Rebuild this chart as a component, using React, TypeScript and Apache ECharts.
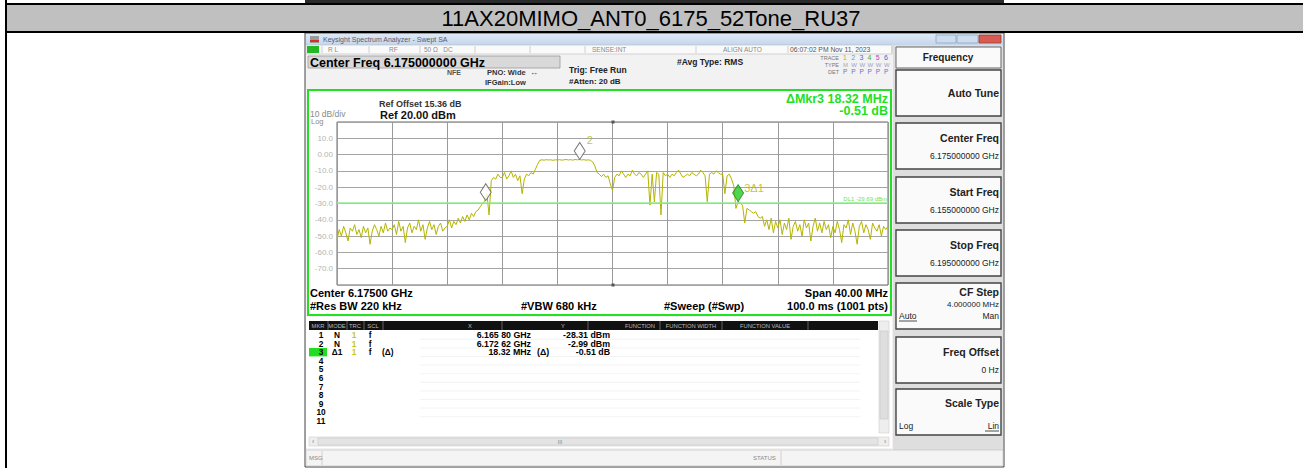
import React, { useEffect, useRef } from "react";
import * as echarts from "echarts";

// ---------------- data ----------------
const TITLE = "11AX20MIMO_ANT0_6175_52Tone_RU37";
const START_MHZ = 6155;
const STEP_MHZ = 0.16;
const CENTER_MHZ = 6175;
const SPAN_MHZ = 40;
const REF_DBM = 20;
const DB_PER_DIV = 10;

// trace values, dBm, 25 sweep points per 4 MHz division
const traceDbm: number[] = [
  // 6.155 - 6.159
  -52, -46, -50, -44, -48, -53, -45, -47, -43, -49, -46, -51, -44, -48, -45, -55, -47, -43, -46, -50, -44, -48, -42, -47, -45,
  // 6.159 - 6.163
  -46, -43, -49, -41, -47, -44, -54, -45, -42, -48, -44, -46, -40, -47, -43, -52, -45, -41, -46, -43, -49, -44, -42, -47, -45,
  // 6.163 - 6.167
  -44, -40, -45, -41, -43, -39, -42, -38, -41, -37, -40, -36, -38, -35, -34, -32, -30, -28.5, -24, -37, -16, -14, -15, -12, -14,
  // 6.167 - 6.171
  -14, -11, -15, -13, -10, -14, -12, -16, -13, -24, -15, -12, -13, -11, -12, -9, -6, -3.5, -3.2, -3.4, -3.1, -3.3, -3.2, -3.5, -3.2,
  // 6.171 - 6.175
  -3.3, -3.1, -3.4, -3.2, -3.0, -3.3, -3.1, -3.4, -3.0, -3.2, -3.0, -3.3, -3.1, -3.4, -3.2, -3.5, -4.5, -7, -11, -12, -13.5, -12, -14, -13, -18,
  // 6.175 - 6.179
  -22, -14, -12, -13, -10, -12, -14, -12, -13, -9.5, -12, -13, -11, -12, -14, -12, -10, -31, -12, -29, -11, -12, -37, -11, -13,
  // 6.179 - 6.183
  -12, -14, -12, -13, -11, -9.5, -12, -14, -13, -12, -13, -11, -12, -13, -12, -9.5, -11, -13, -29, -12, -11, -12, -10, -11, -12,
  // 6.183 - 6.187
  -12, -24, -13, -12, -15, -19, -33, -28.8, -30, -31, -42, -33, -34, -35, -36, -35, -38, -39, -38, -44, -40, -46, -39, -48, -41,
  // 6.187 - 6.191
  -45, -40, -49, -42, -46, -39, -52, -44, -41, -47, -43, -50, -40, -45, -42, -53, -44, -39, -47, -42, -48, -41, -46, -43, -51,
  // 6.191 - 6.195
  -44, -48, -41, -46, -54, -43, -45, -40, -49, -42, -47, -55, -44, -41, -48, -43, -46, -52, -42, -45, -47, -43, -50, -44, -46, -44,
];

const displayLineDbm = -29.69;
const markerNames = ["1", "2", "3"];
const markerFreqGHz = [6.1658, 6.17262, 6.18412];
const markerDbm = [-28.31, -2.99, -28.82];

const tableRows = [
  ["1", "N", "1", "f", "", "6.165 80 GHz", "", "-28.31 dBm"],
  ["2", "N", "1", "f", "", "6.172 62 GHz", "", "-2.99 dBm"],
  ["3", "Δ1", "1", "f", "(Δ)", "18.32 MHz", "(Δ)", "-0.51 dB"],
  ["4"], ["5"], ["6"], ["7"], ["8"], ["9"], ["10"], ["11"],
];

const softkeys = [
  { title: "Auto Tune", value: "" },
  { title: "Center Freq", value: "6.175000000 GHz" },
  { title: "Start Freq", value: "6.155000000 GHz" },
  { title: "Stop Freq", value: "6.195000000 GHz" },
  { title: "CF Step", value: "4.000000 MHz" },
  { title: "Freq Offset", value: "0 Hz" },
  { title: "Scale Type", value: "" },
];

// ---------------- helpers ----------------
const FONT = '"Liberation Sans", Arial, sans-serif';
type TO = { size?: number; bold?: boolean; fill?: string; align?: string; va?: string; z?: number };
const txt = (x: number, y: number, text: string, o: TO = {}) => ({
  type: "text",
  x,
  y,
  silent: true,
  z: o.z ?? 50,
  style: {
    text,
    fill: o.fill ?? "#000",
    font: `${o.bold ? "bold " : ""}${o.size ?? 9}px ${FONT}`,
    align: o.align ?? "left",
    textAlign: o.align ?? "left",
    verticalAlign: o.va ?? "middle",
    textVerticalAlign: o.va ?? "middle",
  },
});
const rect = (x: number, y: number, w: number, h: number, style: any, z = -5) => ({
  type: "rect",
  silent: true,
  z,
  shape: { x, y, width: w, height: h },
  style,
});
const line = (x1: number, y1: number, x2: number, y2: number, stroke: string, lw = 1, z = -3) => ({
  type: "line",
  silent: true,
  z,
  shape: { x1, y1, x2, y2 },
  style: { stroke, lineWidth: lw },
});

function buildGraphics() {
  const g: any[] = [];
  // page / table
  g.push(rect(0, 0, 1303, 468, { fill: "#fff" }, -30));
  g.push(rect(305, 0, 699, 3, { fill: "#2b2b2b" }, -4));
  g.push(rect(5, 0, 2, 468, { fill: "#000" }, -2));
  g.push(rect(5, 3, 1298, 2, { fill: "#000" }, -2));
  g.push(rect(7, 5, 1296, 26, { fill: "#c0c0c0" }, -4));
  g.push(rect(5, 31, 1298, 2, { fill: "#000" }, -2));
  g.push(txt(651, 18.5, TITLE, { size: 22, fill: "#000", align: "center" }));

  // screenshot window
  g.push(rect(305, 33, 699, 434, { fill: "#f2f2f2", stroke: "#444", lineWidth: 1 }, -25));
  g.push(
    rect(306, 34, 697, 11, {
      fill: new echarts.graphic.LinearGradient(0, 0, 0, 1, [
        { offset: 0, color: "#dfe9f6" },
        { offset: 1, color: "#c4d6ec" },
      ]),
    }, -20)
  );
  g.push(rect(310, 36, 9, 7, { fill: "#9a9a9a" }, -18));
  g.push(rect(310, 40, 9, 2, { fill: "#d03030" }, -17));
  g.push(txt(323, 39.5, "Keysight Spectrum Analyzer - Swept SA", { size: 7, fill: "#5a5a6a" }));
  g.push(rect(936, 35, 20, 8, { fill: "#cddcee", stroke: "#8ea4c0", lineWidth: 0.8 }, -18));
  g.push(rect(957, 35, 21, 8, { fill: "#cddcee", stroke: "#8ea4c0", lineWidth: 0.8 }, -18));
  g.push(rect(979, 35, 22, 8, { fill: "#d85a50", stroke: "#a03a30", lineWidth: 0.8 }, -18));

  // status row
  g.push(rect(306, 45, 586, 9, { fill: "#fafafa", stroke: "#bbb", lineWidth: 0.6 }, -20));
  g.push(rect(307, 46, 12, 7, { fill: "#22b822" }, -18));
  [322, 369, 420, 475, 530, 585, 696, 788, 892].forEach((x) => g.push(line(x, 46, x, 53, "#c4c4c4", 0.8)));
  g.push(txt(328, 49.5, "R L", { size: 6.5, fill: "#8a8a8a" }));
  g.push(txt(389, 49.5, "RF", { size: 6.5, fill: "#8a8a8a" }));
  g.push(txt(424, 49.5, "50 Ω   DC", { size: 6.5, fill: "#8a8a8a" }));
  g.push(txt(592, 49.5, "SENSE:INT", { size: 6.5, fill: "#8a8a8a" }));
  g.push(txt(723, 49.5, "ALIGN AUTO", { size: 6.5, fill: "#8a8a8a" }));
  g.push(txt(790, 49.5, "06:07:02 PM Nov 11, 2023", { size: 6.8, fill: "#555" }));

  // header area
  g.push(rect(308, 56, 252, 12, { fill: "#d9d9d9", stroke: "#9a9a9a", lineWidth: 0.8 }, -18));
  g.push(txt(310, 62.5, "Center Freq 6.175000000 GHz", { size: 12.5, bold: true }));
  g.push(txt(447, 72.5, "NFE", { size: 7, bold: true, fill: "#555" }));
  g.push(txt(487, 72.5, "PNO: Wide", { size: 7.5, bold: true, fill: "#333" }));
  g.push(txt(530, 72.5, "↔", { size: 8, fill: "#444" }));
  g.push(txt(485, 82, "IFGain:Low", { size: 7.5, bold: true, fill: "#333" }));
  g.push(txt(569, 70, "Trig: Free Run", { size: 8.5, bold: true, fill: "#222" }));
  g.push(txt(569, 81, "#Atten: 20 dB", { size: 8, bold: true, fill: "#222" }));
  g.push(txt(677, 61.5, "#Avg Type: RMS", { size: 8.5, bold: true, fill: "#222" }));
  g.push(txt(839, 57.5, "TRACE", { size: 5.5, fill: "#777", align: "right" }));
  g.push(txt(839, 64.5, "TYPE", { size: 5.5, fill: "#777", align: "right" }));
  g.push(txt(839, 71.5, "DET", { size: 5.5, fill: "#777", align: "right" }));
  const traceCols = ["#e0a010", "#38b0e0", "#3070e0", "#40b040", "#c040c0", "#5060e0"];
  traceCols.forEach((c, i) => {
    g.push(txt(843 + i * 8.2, 57.5, String(i + 1), { size: 7, fill: c }));
    g.push(txt(843 + i * 8.2, 64.5, i === 0 ? "M" : "W", { size: 6, fill: i === 0 ? "#aaa" : "#9aa0c8" }));
    g.push(txt(843 + i * 8.2, 71.5, "P", { size: 6.5, fill: i === 0 ? "#777" : "#6c6cd0" }));
  });

  // green display frame
  g.push(rect(308, 90, 583, 225, { fill: "#fff", stroke: "#22e022", lineWidth: 2 }, -15));
  g.push(txt(379, 104, "Ref Offset 15.36 dB", { size: 9, bold: true, fill: "#333" }));
  g.push(txt(310, 114, "10 dB/div", { size: 8.5, fill: "#8a8a8a" }));
  g.push(txt(380, 114.5, "Ref 20.00 dBm", { size: 11, bold: true, fill: "#111" }));
  g.push(txt(311, 121.5, "Log", { size: 7.5, fill: "#8a8a8a" }));
  g.push(txt(888, 99, "ΔMkr3 18.32 MHz", { size: 12.5, bold: true, fill: "#22e022", align: "right" }));
  g.push(txt(888, 111, "-0.51 dB", { size: 12.5, bold: true, fill: "#22e022", align: "right" }));
  g.push(rect(611.5, 120.5, 3, 3, { fill: "#555" }, 20));
  g.push(rect(611.5, 283.5, 3, 3, { fill: "#555" }, 20));

  g.push(txt(310, 293, "Center 6.17500 GHz", { size: 11, bold: true }));
  g.push(txt(888, 293, "Span 40.00 MHz", { size: 11, bold: true, align: "right" }));
  g.push(txt(310, 306, "#Res BW 220 kHz", { size: 11, bold: true }));
  g.push(txt(521, 306, "#VBW 680 kHz", { size: 11, bold: true }));
  g.push(txt(664, 306, "#Sweep (#Swp)", { size: 11, bold: true }));
  g.push(txt(888, 306, "100.0 ms (1001 pts)", { size: 11, bold: true, align: "right" }));

  // marker table
  g.push(rect(306, 317, 586, 131, { fill: "#fff" }, -15));
  g.push(rect(309, 321, 569, 9, { fill: "#111" }, -12));
  [328, 347, 364, 383, 502, 588, 660, 722, 808].forEach((x) => g.push(line(x, 321, x, 330, "#777", 0.8, -10)));
  const hdr: [number, string][] = [
    [318, "MKR"], [337, "MODE"], [355, "TRC"], [373, "SCL"], [470, "X"], [563, "Y"],
    [640, "FUNCTION"], [691, "FUNCTION WIDTH"], [765, "FUNCTION VALUE"],
  ];
  hdr.forEach(([x, t]) => g.push(txt(x, 325.5, t, { size: 5.8, fill: "#bbb", align: "center" })));
  const rowY0 = 335;
  const rowDy = 8.6;
  const fs = 8.3;
  tableRows.forEach((r, i) => {
    const y = rowY0 + i * rowDy;
    if (i === 2) g.push(rect(309, y - 4.2, 18, 8.4, { fill: "#22dd22" }, -10));
    g.push(txt(321, y, r[0], { size: fs, bold: true, align: "center" }));
    if (r.length > 1) {
      g.push(txt(337, y, r[1], { size: fs, bold: true, align: "center" }));
      g.push(txt(354, y, r[2], { size: fs, bold: true, fill: "#c8c820", align: "center" }));
      g.push(txt(370, y, r[3], { size: fs, bold: true, align: "center" }));
      if (r[4]) g.push(txt(382, y, r[4], { size: fs, bold: true }));
      g.push(txt(531, y, r[5], { size: fs + 0.5, bold: true, align: "right" }));
      if (r[6]) g.push(txt(537, y, r[6], { size: fs + 0.5, bold: true }));
      g.push(txt(610, y, r[7], { size: fs + 0.5, bold: true, align: "right" }));
    }
    if (i > 0) g.push(line(420, y - 4.3, 860, y - 4.3, "#f0f0f0", 0.8, -11));
  });
  // scrollbars
  g.push(rect(879, 321, 10, 112, { fill: "#eeeeee", stroke: "#cfcfcf", lineWidth: 0.6 }, -12));
  g.push(rect(880, 331, 8, 88, { fill: "#dedede", stroke: "#c6c6c6", lineWidth: 0.6 }, -11));
  g.push(rect(309, 437, 580, 9, { fill: "#eeeeee", stroke: "#cfcfcf", lineWidth: 0.6 }, -12));
  g.push(rect(318, 438, 560, 7, { fill: "#e4e4e4", stroke: "#c8c8c8", lineWidth: 0.6 }, -11));
  g.push(txt(560, 441.5, "III", { size: 5.5, fill: "#888", align: "center" }));
  g.push(txt(312, 441.5, "‹", { size: 7, fill: "#888" }));
  g.push(txt(884, 441.5, "›", { size: 7, fill: "#888" }));
  // msg bar
  g.push(rect(306, 450, 697, 16, { fill: "#f4f4f4", stroke: "#bdbdbd", lineWidth: 0.6 }, -12));
  g.push(line(322, 451, 322, 465, "#c8c8c8", 0.8, -10));
  g.push(line(781, 451, 781, 465, "#c8c8c8", 0.8, -10));
  g.push(txt(309, 458, "MSG", { size: 6, fill: "#888" }));
  g.push(txt(753, 458, "STATUS", { size: 6, fill: "#888" }));

  // right softkey panel
  g.push(rect(893, 45, 110, 405, { fill: "#dedede" }, -14));
  g.push(rect(896, 47, 105, 21, { fill: "#fafafa", stroke: "#666", lineWidth: 1 }, -12));
  g.push(txt(948, 57.5, "Frequency", { size: 10, bold: true, fill: "#222", align: "center" }));
  const tops = [70, 123, 177, 230, 283, 337, 389];
  softkeys.forEach((k, i) => {
    const t = tops[i];
    g.push(rect(896, t, 105, 46, { fill: "#fafafa", stroke: "#444", lineWidth: 1.4 }, -12));
    if (i === 4) {
      g.push(txt(999, t + 8.5, k.title, { size: 10.5, bold: true, fill: "#222", align: "right" }));
      g.push(txt(999, t + 21, k.value, { size: 8, fill: "#222", align: "right" }));
      g.push(txt(899, t + 33, "Auto", { size: 8.5, fill: "#222" }));
      g.push(line(899, t + 38, 917, t + 38, "#222", 0.8, -10));
      g.push(txt(999, t + 33, "Man", { size: 8.5, fill: "#222", align: "right" }));
    } else if (i === 6) {
      g.push(txt(999, t + 13.5, k.title, { size: 10.5, bold: true, fill: "#222", align: "right" }));
      g.push(txt(899, t + 37, "Log", { size: 8.5, fill: "#222" }));
      g.push(txt(999, t + 37, "Lin", { size: 8.5, fill: "#222", align: "right" }));
      g.push(line(985, t + 42, 999, t + 42, "#222", 0.8, -10));
    } else if (k.value) {
      g.push(txt(999, t + 14.5, k.title, { size: 10.5, bold: true, fill: "#222", align: "right" }));
      g.push(txt(999, t + 33, k.value, { size: 8.5, fill: "#222", align: "right" }));
    } else {
      g.push(txt(999, t + 22.5, k.title, { size: 10.5, bold: true, fill: "#222", align: "right" }));
    }
  });
  return g;
}

export default function App() {
  const ref = useRef<HTMLDivElement>(null);
  useEffect(() => {
    if (!ref.current) return;
    const chart = echarts.init(ref.current, undefined, { renderer: "svg" });
    const traceData = traceDbm.map((d, i) => [START_MHZ + i * STEP_MHZ - CENTER_MHZ, d]);
    const markerData = markerFreqGHz.map((f, i) => {
      const base: any = {
        name: markerNames[i],
        value: [f * 1000 - CENTER_MHZ, markerDbm[i]],
        itemStyle: { color: "#fff", borderColor: "#555", borderWidth: 1 },
      };
      if (i === 1) {
        base.label = { show: true, formatter: "2", position: [13, -7], color: "#b6b600", fontSize: 11, fontFamily: FONT };
      }
      if (i === 2) {
        base.itemStyle = { color: "#22cc22", borderColor: "#2a7a2a", borderWidth: 1 };
        base.label = { show: true, formatter: "3Δ1", position: [12, -1], color: "#b6b600", fontSize: 11, fontFamily: FONT };
      }
      return base;
    });
    chart.setOption({
      animation: false,
      textStyle: { fontFamily: FONT },
      grid: { left: 337, top: 122, width: 551, height: 163, show: true, borderColor: "#6a6a6a", borderWidth: 1, backgroundColor: "transparent", z: 0 },
      xAxis: {
        type: "value",
        min: -SPAN_MHZ / 2,
        max: SPAN_MHZ / 2,
        interval: 4,
        z: 1,
        axisLine: { show: false },
        axisTick: { show: false },
        axisLabel: { show: false },
        splitLine: { show: true, lineStyle: { color: "#9a9a9a", width: 1 } },
      },
      yAxis: {
        type: "value",
        min: REF_DBM - 10 * DB_PER_DIV,
        max: REF_DBM,
        interval: DB_PER_DIV,
        z: 1,
        axisLine: { show: false },
        axisTick: { show: false },
        axisLabel: {
          show: true,
          margin: 4,
          color: "#b4b4b4",
          fontSize: 8,
          formatter: (v: number) => (v >= REF_DBM || v <= REF_DBM - 100 ? "" : v === 0 ? "0.00" : v.toFixed(1)),
        },
        splitLine: { show: true, lineStyle: { color: "#a4a4a4", width: 1 } },
      },
      graphic: { elements: buildGraphics() },
      series: [
        {
          type: "line",
          data: traceData,
          symbol: "none",
          z: 3,
          lineStyle: { color: "#b4b400", width: 1 },
          markLine: {
            silent: true,
            symbol: "none",
            data: [{ yAxis: displayLineDbm }],
            lineStyle: { color: "#8ef08e", width: 1.5, type: "solid" },
            label: { show: true, position: "insideEndTop", formatter: "DL1 -29.69 dBm", color: "#6fe06f", fontSize: 6, distance: 1 },
          },
        },
        {
          type: "scatter",
          symbol: "diamond",
          symbolSize: [11, 17],
          symbolOffset: [0, -8.5],
          z: 6,
          data: markerData,
        },
      ],
    });
    return () => chart.dispose();
  }, []);
  return <div ref={ref} style={{ position: "absolute", left: 0, top: 0, width: 1303, height: 468 }} />;
}
